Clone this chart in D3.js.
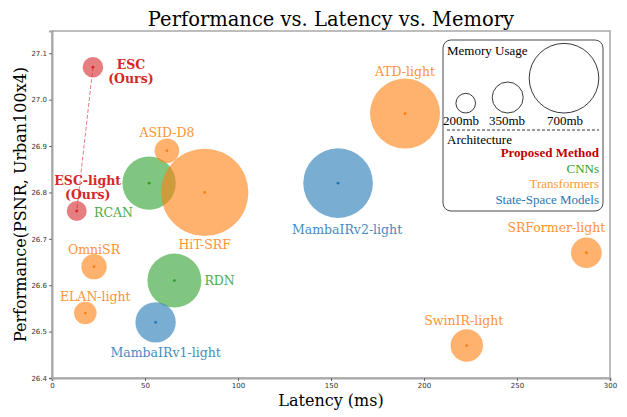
<!DOCTYPE html>
<html>
<head>
<meta charset="utf-8">
<script src="https://cdn.jsdelivr.net/npm/d3@7"></script>
<style>
  body { margin: 0; background: #fff; }
  .tick text { font-family: "DejaVu Sans", sans-serif; font-size: 7px; fill: #333; }
  .tick line { stroke: #666; }
</style>
</head>
<body>
<div id="chart"></div>
<script>
// Data
var models = ["ESC", "ESC-light", "RCAN", "RDN", "ASID-D8", "HiT-SRF", "ATD-light", "OmniSR",
  "ELAN-light", "SRFormer-light", "SwinIR-light", "MambaIRv2-light", "MambaIRv1-light"];
var latency = [22, 13.3, 52.2, 65.8, 61.8, 82.1, 189.8, 22.6, 17.9, 287.3, 223, 153.8, 55.7];
var psnr = [27.07, 26.76, 26.82, 26.61, 26.89, 26.80, 26.97, 26.64, 26.54, 26.67, 26.47, 26.82, 26.52];
var memory = [213, 205, 553, 558, 266, 861, 704, 276, 239, 345, 363, 700, 435];
var arch = ["Proposed", "Proposed", "CNN", "CNN", "Transformer", "Transformer", "Transformer", "Transformer",
  "Transformer", "Transformer", "Transformer", "SSM", "SSM"];
var legendMem = [200, 350, 700];
var archNames = ["Proposed Method", "CNNs", "Transformers", "State-Space Models"];
var xTicks = [0, 50, 100, 150, 200, 250, 300];
var yTicks = [26.4, 26.5, 26.6, 26.7, 26.8, 26.9, 27.0, 27.1];

// Sizes
var svgWidth = 627;
var svgHeight = 417;
var margin = { top: 31, right: 17, bottom: 39, left: 52 };
var width = svgWidth - margin.left - margin.right;
var height = svgHeight - margin.top - margin.bottom;

var colors = { Proposed: "#d62728", CNN: "#2ca02c", Transformer: "#ff7f0e", SSM: "#1f77b4" };

// label positions relative to the bubble centre (text-anchor, dx, dy)
var labelPos = {
  "ESC": ["middle", 38, 2],
  "ESC-light": ["middle", 11, -26],
  "RCAN": ["start", -55, 34],
  "RDN": ["start", 30, 4],
  "ASID-D8": ["middle", 0, -14],
  "HiT-SRF": ["middle", 0, 57],
  "ATD-light": ["middle", 0, -38],
  "OmniSR": ["middle", 0, -13],
  "ELAN-light": ["middle", 10, -12],
  "SRFormer-light": ["middle", -30, -21],
  "SwinIR-light": ["middle", -3, -21],
  "MambaIRv2-light": ["middle", 9, 51],
  "MambaIRv1-light": ["middle", 10, 35]
};

var svg = d3.select("#chart")
  .append("svg")
  .attr("width", svgWidth)
  .attr("height", svgHeight);

var chartGroup = svg.append("g")
  .attr("transform", `translate(${margin.left}, ${margin.top})`);

var xScale = d3.scaleLinear().domain([0, 300]).range([0, width]);
var yScale = d3.scaleLinear().domain([26.4, 27.148]).range([height, 0]);
var rScale = d3.scaleLinear().domain(legendMem).range([9.8, 15.5, 34.8]);

// frame
chartGroup.append("rect")
  .attr("width", width).attr("height", height)
  .attr("fill", "none").attr("stroke", "#a8a8a8").attr("stroke-width", 1.5);

var bottomAxis = d3.axisBottom(xScale).tickValues(xTicks).tickSize(3).tickPadding(2);
var leftAxis = d3.axisLeft(yScale).tickValues(yTicks).tickSize(3).tickPadding(2).tickFormat(d3.format(".1f"));

chartGroup.append("g")
  .attr("transform", `translate(0, ${height})`)
  .call(bottomAxis)
  .call(g => g.select(".domain").attr("stroke", "#a8a8a8").attr("stroke-width", 2));

chartGroup.append("g")
  .call(leftAxis)
  .call(g => g.select(".domain").attr("stroke", "#a8a8a8").attr("stroke-width", 2));

var points = models.map((m, i) => ({ name: m, x: latency[i], y: psnr[i], mem: memory[i], arch: arch[i] }));

// dashed link between the two proposed models
chartGroup.append("line")
  .attr("x1", xScale(latency[0])).attr("y1", yScale(psnr[0]))
  .attr("x2", xScale(latency[1])).attr("y2", yScale(psnr[1]))
  .attr("stroke", colors.Proposed).attr("stroke-opacity", 0.6)
  .attr("stroke-width", 1).attr("stroke-dasharray", "4,2");

chartGroup.selectAll(".bubble")
  .data(points)
  .enter()
  .append("circle")
  .attr("class", "bubble")
  .attr("cx", d => xScale(d.x))
  .attr("cy", d => yScale(d.y))
  .attr("r", d => rScale(d.mem))
  .attr("fill", d => colors[d.arch])
  .attr("opacity", 0.6);

chartGroup.selectAll(".dot")
  .data(points)
  .enter()
  .append("circle")
  .attr("cx", d => xScale(d.x))
  .attr("cy", d => yScale(d.y))
  .attr("r", 1.4)
  .attr("fill", d => colors[d.arch]);

// bubble labels
points.forEach(function (d) {
  var p = labelPos[d.name];
  var t = chartGroup.append("text")
    .attr("x", xScale(d.x) + p[1])
    .attr("y", yScale(d.y) + p[2])
    .attr("text-anchor", p[0])
    .style("font-family", "DejaVu Serif, serif")
    .style("font-size", "12.5px")
    .style("fill", colors[d.arch]);
  if (d.arch == "Proposed") {
    t.style("font-weight", "bold");
    var lines = d.name == "ESC" ? ["ESC", "(Ours)"] : ["ESC-light", "(Ours)"];
    t.append("tspan").attr("x", xScale(d.x) + p[1]).text(lines[0]);
    t.append("tspan").attr("x", xScale(d.x) + p[1]).attr("dy", 14).text(lines[1]);
  } else {
    t.attr("opacity", 0.85).text(d.name);
  }
});

// legend
var lg = svg.append("g");
lg.append("rect")
  .attr("x", 443).attr("y", 40).attr("width", 160).attr("height", 171)
  .attr("rx", 8).attr("fill", "#fff").attr("stroke", "#333").attr("stroke-width", 0.9);

var legendFont = "Liberation Serif, Times New Roman, serif";
lg.append("text").attr("x", 447).attr("y", 55)
  .style("font-family", legendFont).style("font-size", "13px").text("Memory Usage");

var legendX = [465.7, 507.7, 564];
var legendLabelX = [461, 507, 565];
lg.selectAll(".lcirc")
  .data(legendMem)
  .enter()
  .append("circle")
  .attr("cx", (d, i) => legendX[i])
  .attr("cy", d => 113 - rScale(d))
  .attr("r", d => rScale(d))
  .attr("fill", "none").attr("stroke", "#222").attr("stroke-width", 0.9);

lg.selectAll(".ltext")
  .data(legendMem)
  .enter()
  .append("text")
  .attr("x", (d, i) => legendLabelX[i])
  .attr("y", 125)
  .attr("text-anchor", "middle")
  .style("font-family", legendFont).style("font-size", "13px")
  .text(d => d + "mb");

lg.append("line")
  .attr("x1", 447).attr("x2", 599).attr("y1", 130).attr("y2", 130)
  .attr("stroke", "#333").attr("stroke-dasharray", "3,2").attr("stroke-width", 1);

lg.append("text").attr("x", 447).attr("y", 144)
  .style("font-family", legendFont).style("font-size", "13px").text("Architecture");

var archColors = ["#c00000", "#2ca02c", "#ff9933", "#1f77b4"];
lg.selectAll(".arch")
  .data(archNames)
  .enter()
  .append("text")
  .attr("x", 599)
  .attr("y", (d, i) => 157 + i * 15.5)
  .attr("text-anchor", "end")
  .style("font-family", legendFont).style("font-size", "13px")
  .style("font-weight", (d, i) => i == 0 ? "bold" : "normal")
  .style("fill", (d, i) => archColors[i])
  .text(d => d);

// title and axis labels
svg.append("text")
  .attr("x", 331).attr("y", 26)
  .attr("text-anchor", "middle")
  .style("font-family", "DejaVu Serif, serif").style("font-size", "19.5px")
  .text("Performance vs. Latency vs. Memory");

svg.append("text")
  .attr("transform", "rotate(-90)")
  .attr("x", -(margin.top + height / 2)).attr("y", 26)
  .attr("text-anchor", "middle")
  .style("font-family", "DejaVu Serif, serif").style("font-size", "16px")
  .text("Performance(PSNR, Urban100x4)");

svg.append("text")
  .attr("x", margin.left + width / 2).attr("y", 406)
  .attr("text-anchor", "middle")
  .style("font-family", "DejaVu Serif, serif").style("font-size", "16px")
  .text("Latency (ms)");
</script>
</body>
</html>
